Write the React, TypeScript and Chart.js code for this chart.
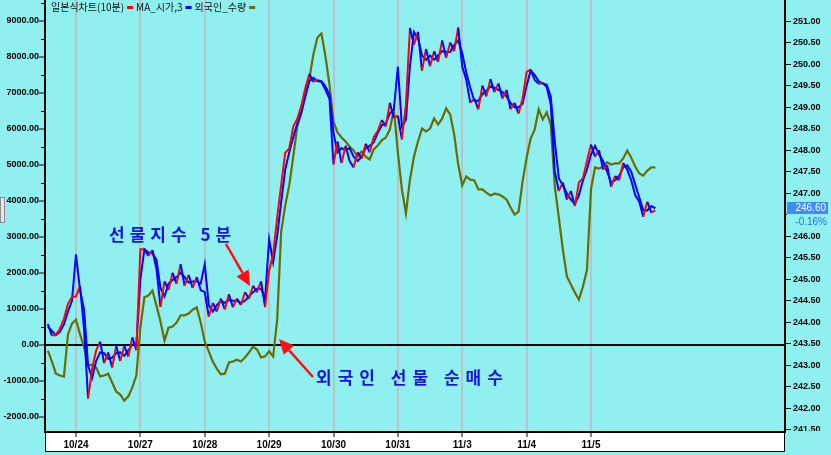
import React, { useEffect, useRef } from 'react';
import { Chart, registerables } from 'chart.js';

Chart.register(...registerables);

// Trading-day axis: 0 = open of 10/24, each unit = one trading session
const DATES = ['10/24', '10/27', '10/28', '10/29', '10/30', '10/31', '11/3', '11/4', '11/5'];
const DATE_POS = [0, 1, 2, 3, 4, 5, 6, 7, 8];
const T0 = -0.4375;
const DT = 1 / 16;

const LEFT_TICKS = [-2000, -1000, 0, 1000, 2000, 3000, 4000, 5000, 6000, 7000, 8000, 9000];
const RIGHT_TICKS = [
  241.5, 242, 242.5, 243, 243.5, 244, 244.5, 245, 245.5, 246, 246.5, 247, 247.5, 248,
  248.5, 249, 249.5, 250, 250.5, 251,
];

const LEGEND = ['일본식차트(10분)', 'MA_시가,3', '외국인_수량'];
const NOTE_PRICE = '선물지수 5분';
const NOTE_FOREIGN = '외국인 선물 순매수';
const LAST_PRICE_TEXT = '246.60';
const LAST_CHANGE_TEXT = '-0.16%';

// KOSPI200 futures, 10-minute (right axis)
const PRICE = [
  243.96, 243.69, 243.71, 243.85, 244.08, 244.43, 244.59, 244.60, 244.84, 243.85,
  242.23, 242.92, 243.34, 243.55, 243.05, 243.30, 242.95, 243.45, 243.10, 243.45,
  243.20, 243.65, 243.35, 245.70, 245.70, 245.54, 245.68, 245.24, 244.36, 244.95,
  244.75, 245.15, 244.90, 245.35, 244.85, 245.10, 244.80, 245.05, 244.75, 244.70,
  244.13, 244.45, 244.25, 244.55, 244.30, 244.65, 244.35, 244.55, 244.40, 244.70,
  244.55, 244.85, 244.70, 244.95, 244.35, 245.20, 245.58, 246.44, 247.20, 247.94,
  248.04, 248.55, 248.73, 249.03, 249.45, 249.77, 249.59, 249.63, 249.59, 249.40,
  249.19, 247.67, 248.20, 247.70, 248.10, 247.75, 247.60, 247.95, 247.80, 248.15,
  247.95, 248.30, 248.45, 248.70, 248.55, 249.10, 248.75, 248.80, 248.25, 249.06,
  250.84, 250.45, 250.75, 249.85, 250.35, 249.95, 250.30, 250.05, 250.55, 250.15,
  250.50, 250.30, 250.85, 249.94, 249.63, 249.10, 249.20, 248.95, 249.50, 249.25,
  249.65, 249.35, 249.55, 249.20, 249.40, 248.95, 249.10, 248.85, 249.20, 249.82,
  249.87, 249.63, 249.54, 249.56, 249.47, 249.06, 247.50, 247.05, 247.25, 246.85,
  247.05, 246.70, 247.25, 247.35, 247.75, 248.13, 247.85, 248.00, 247.55, 247.65,
  247.15, 247.40, 247.30, 247.70, 247.55, 247.30, 246.95, 246.80, 246.45, 246.80,
  246.55, 246.60,
];

// MA of open, 3 bars (right axis)
const MA3 = [
  243.90, 243.80, 243.70, 243.78, 243.95, 244.25, 244.50, 245.58, 244.75, 244.30,
  243.00, 242.70, 243.10, 243.30, 243.28, 243.15, 243.18, 243.28, 243.30, 243.22,
  243.35, 243.48, 243.48, 245.00, 245.70, 245.62, 245.60, 245.45, 244.80, 244.60,
  244.90, 244.98, 245.05, 245.15, 245.05, 244.92, 244.95, 244.95, 244.90, 245.35,
  244.40, 244.25, 244.40, 244.50, 244.45, 244.52, 244.50, 244.50, 244.45, 244.50,
  244.60, 244.70, 244.78, 244.78, 244.55, 245.93, 245.40, 246.00, 246.80, 247.55,
  247.95, 248.30, 248.62, 248.88, 249.25, 249.60, 249.68, 249.60, 249.60, 249.48,
  249.30, 248.40, 247.95, 248.05, 248.00, 248.05, 247.85, 247.75, 247.85, 248.05,
  248.10, 248.18, 248.40, 248.58, 248.62, 248.85, 248.95, 249.94, 248.55, 248.70,
  249.95, 250.75, 250.60, 250.20, 250.10, 250.20, 250.10, 250.20, 250.30, 250.28,
  250.28, 250.45, 250.55, 250.25, 249.80, 249.45, 249.15, 249.15, 249.30, 249.38,
  249.48, 249.45, 249.40, 249.35, 249.25, 249.10, 249.00, 249.00, 249.08, 249.50,
  249.85, 249.75, 249.60, 249.55, 249.52, 249.25, 248.20, 247.35, 247.18, 247.00,
  246.85, 246.75, 246.95, 247.30, 247.55, 247.90, 248.10, 247.90, 247.75, 247.50,
  247.25, 247.30, 247.40, 247.60, 247.65, 247.50, 247.20, 246.90, 246.60, 246.60,
  246.70, 246.65,
];

// Foreign net futures contracts (left axis)
const FOREIGN = [
  -170, -470, -810, -860, -890, 280, 580, 690, 280, -60,
  -580, -560, -640, -890, -860, -810, -1060, -1310, -1390, -1560,
  -1440, -1190, -860, 470, 1310, 1360, 1500, 1080, 640, 110,
  470, 500, 610, 810, 810, 860, 970, 1030, 610, 80,
  -190, -470, -670, -830, -810, -500, -470, -420, -470, -360,
  -220, -60, -140, -360, -330, -190, -330, 690, 3140, 3860,
  4420, 5220, 6060, 6420, 6950, 7390, 8060, 8530, 8640, 8000,
  7220, 6190, 5890, 5750, 5640, 5500, 5390, 5220, 5360, 5220,
  5140, 5420, 5530, 5670, 5750, 5970, 6530, 5330, 4310, 3640,
  4580, 5220, 5640, 6000, 5920, 6000, 6280, 6110, 6280, 6560,
  6390, 5830, 5000, 4420, 4670, 4580, 4560, 4310, 4310, 4220,
  4140, 4190, 4170, 4110, 4030, 3810, 3610, 3690, 4530, 5190,
  5720, 5970, 6530, 6250, 6450, 6110, 4390, 3530, 2640, 1890,
  1670, 1440, 1250, 1610, 2080, 4310, 4920, 4890, 4940, 5060,
  5000, 5030, 5030, 5170, 5390, 5190, 4940, 4750, 4690, 4830,
  4920, 4920,
];

const BG = '#90f0f0';
const RED = '#ff0000';
const BLUE = '#0000ff';
const OLIVE = '#6b6b00';
const AXIS_FONT = "'Liberation Sans', Arial, sans-serif";
const KR_FONT = "'Noto Sans CJK KR', 'Noto Sans', sans-serif";

function toXY(arr: number[]) {
  return arr.map((y, i) => ({ x: T0 + i * DT, y }));
}

function drawArrow(ctx: CanvasRenderingContext2D, x1: number, y1: number, x2: number, y2: number) {
  const ang = Math.atan2(y2 - y1, x2 - x1);
  const headLen = 15;
  const headW = 7;
  const bx = x2 - headLen * Math.cos(ang);
  const by = y2 - headLen * Math.sin(ang);
  ctx.save();
  ctx.strokeStyle = '#ff1010';
  ctx.fillStyle = '#ff1010';
  ctx.lineWidth = 2.5;
  ctx.beginPath();
  ctx.moveTo(x1, y1);
  ctx.lineTo(bx, by);
  ctx.stroke();
  ctx.beginPath();
  ctx.moveTo(x2, y2);
  ctx.lineTo(bx + headW * Math.sin(ang), by - headW * Math.cos(ang));
  ctx.lineTo(bx - headW * Math.sin(ang), by + headW * Math.cos(ang));
  ctx.closePath();
  ctx.fill();
  ctx.restore();
}

const decoPlugin = {
  id: 'deco',
  beforeDraw(chart: any) {
    const { ctx, width, height, chartArea } = chart;
    ctx.save();
    ctx.fillStyle = BG;
    ctx.fillRect(0, 0, width, height);
    ctx.fillStyle = '#ffffff';
    ctx.fillRect(chartArea.left, chartArea.bottom, chartArea.right - chartArea.left, 19);
    ctx.restore();
  },
  afterDraw(chart: any) {
    const { ctx, chartArea } = chart;
    const yL = chart.scales.yL;
    const yR = chart.scales.yR;
    ctx.save();

    // cover right labels below plot bottom
    ctx.fillStyle = BG;
    ctx.fillRect(chartArea.right + 2, chartArea.bottom - 1, 60, 40);

    // strip border
    ctx.strokeStyle = '#000';
    ctx.lineWidth = 1;
    ctx.beginPath();
    ctx.moveTo(chartArea.left + 0.5, chartArea.bottom);
    ctx.lineTo(chartArea.left + 0.5, chartArea.bottom + 19.5);
    ctx.lineTo(chartArea.right - 0.5, chartArea.bottom + 19.5);
    ctx.lineTo(chartArea.right - 0.5, chartArea.bottom);
    ctx.stroke();

    // minor ticks on left axis
    ctx.beginPath();
    for (let v = -1500; v <= 9500; v += 1000) {
      const y = Math.round(yL.getPixelForValue(v)) + 0.5;
      if (y < chartArea.top || y > chartArea.bottom) continue;
      ctx.moveTo(chartArea.left - 4, y);
      ctx.lineTo(chartArea.left, y);
    }
    ctx.stroke();

    // left edge tab
    ctx.fillStyle = '#e6e6e6';
    ctx.fillRect(0, 197, 5, 26);
    ctx.strokeStyle = '#8a8a8a';
    ctx.strokeRect(0.5, 197.5, 4, 25);

    // legend
    ctx.font = `10px ${KR_FONT}`;
    ctx.textBaseline = 'middle';
    ctx.textAlign = 'left';
    const cols = [RED, BLUE, OLIVE];
    let x = 51;
    LEGEND.forEach((t, i) => {
      ctx.fillStyle = '#111111';
      ctx.fillText(t, x, 7);
      x += ctx.measureText(t).width + 3;
      ctx.fillStyle = cols[i];
      ctx.fillRect(x, 6, 6, 3);
      x += 9;
    });

    // annotations
    ctx.fillStyle = '#1414e6';
    ctx.font = `bold 17px ${KR_FONT}`;
    ctx.textBaseline = 'middle';
    (ctx as any).letterSpacing = '5px';
    ctx.fillText(NOTE_PRICE, 109, 235);
    (ctx as any).letterSpacing = '6px';
    ctx.fillText(NOTE_FOREIGN, 316, 378);
    (ctx as any).letterSpacing = '0px';
    drawArrow(ctx, 226, 244, 250, 286);
    drawArrow(ctx, 313, 377, 279, 339);

    // last price box
    const last = PRICE[PRICE.length - 1];
    const py = Math.round(yR.getPixelForValue(last));
    ctx.fillStyle = BG;
    ctx.fillRect(chartArea.right + 2, py - 8, 50, 26);
    ctx.fillStyle = '#3c8cff';
    ctx.fillRect(787, py - 8, 41, 12);
    ctx.fillStyle = '#ffffff';
    ctx.font = `10px ${AXIS_FONT}`;
    ctx.textAlign = 'right';
    ctx.fillText(LAST_PRICE_TEXT, 826, py - 2);
    ctx.fillStyle = '#1f6fff';
    ctx.fillText(LAST_CHANGE_TEXT, 827, py + 12);

    ctx.restore();
  },
};

export default function App() {
  const ref = useRef<HTMLCanvasElement>(null);
  useEffect(() => {
    document.body.style.margin = '0';
    if (!ref.current) return;
    const chart = new Chart(ref.current, {
      type: 'line',
      data: {
        datasets: [
          {
            label: LEGEND[2],
            data: toXY(FOREIGN),
            yAxisID: 'yL',
            borderColor: OLIVE,
            borderWidth: 2.2,
            pointRadius: 0,
            tension: 0,
            order: 3,
          },
          {
            label: LEGEND[1],
            data: toXY(MA3),
            yAxisID: 'yR',
            borderColor: BLUE,
            borderWidth: 2,
            pointRadius: 0,
            tension: 0,
            order: 2,
          },
          {
            label: LEGEND[0],
            data: toXY(PRICE),
            yAxisID: 'yR',
            borderColor: RED,
            borderWidth: 2,
            pointRadius: 0,
            tension: 0,
            order: 1,
            segment: {
              borderColor: (c: any) => (c.p1.parsed.y >= c.p0.parsed.y ? RED : BLUE),
            },
          },
        ],
      } as any,
      options: {
        responsive: false,
        animation: false,
        devicePixelRatio: 1,
        layout: { padding: 0 },
        plugins: { legend: { display: false }, tooltip: { enabled: false } },
        scales: {
          x: {
            type: 'linear',
            min: -0.4816,
            max: 11.0136,
            afterBuildTicks: (s: any) => {
              s.ticks = DATE_POS.map((v) => ({ value: v }));
            },
            afterFit: (s: any) => {
              s.height = 23;
              s.paddingLeft = 0;
              s.paddingRight = 0;
            },
            grid: { color: '#b6c4c4', lineWidth: 2, tickColor: '#000', tickLength: 5, tickWidth: 1 },
            border: { color: '#000', width: 2 },
            ticks: {
              callback: (_v: any, i: number) => DATES[i],
              font: { family: AXIS_FONT, size: 10, weight: 'bold' },
              color: '#000',
              padding: 2,
              maxRotation: 0,
              autoSkip: false,
            },
          },
          yL: {
            type: 'linear',
            position: 'left',
            min: -2430,
            max: 9570,
            afterBuildTicks: (s: any) => {
              s.ticks = LEFT_TICKS.map((v) => ({ value: v }));
            },
            afterFit: (s: any) => {
              s.width = 45;
              s.paddingTop = 0;
              s.paddingBottom = 0;
            },
            ticks: {
              callback: (v: any) => Number(v).toFixed(2),
              font: { family: AXIS_FONT, size: 9, weight: 'bold' },
              color: '#000',
              padding: 0,
            },
            grid: {
              drawOnChartArea: true,
              color: (c: any) => (c.tick && c.tick.value === 0 ? '#000' : 'rgba(0,0,0,0)'),
              lineWidth: 2,
              tickColor: '#000',
              tickLength: 6,
              tickWidth: 1,
            },
            border: { color: '#000', width: 2 },
          },
          yR: {
            type: 'linear',
            position: 'right',
            min: 241.45,
            max: 251.49,
            afterBuildTicks: (s: any) => {
              s.ticks = RIGHT_TICKS.map((v) => ({ value: v }));
            },
            afterFit: (s: any) => {
              s.width = 46;
              s.paddingTop = 0;
              s.paddingBottom = 0;
            },
            ticks: {
              callback: (v: any) => Number(v).toFixed(2),
              font: { family: AXIS_FONT, size: 9, weight: 'bold' },
              color: '#000',
              padding: 2,
            },
            grid: { drawOnChartArea: false, tickColor: '#000', tickLength: 6, tickWidth: 1 },
            border: { color: '#000', width: 2 },
          },
        },
      } as any,
      plugins: [decoPlugin],
    });
    return () => chart.destroy();
  }, []);
  return <canvas ref={ref} width={831} height={455} style={{ display: 'block' }} />;
}
